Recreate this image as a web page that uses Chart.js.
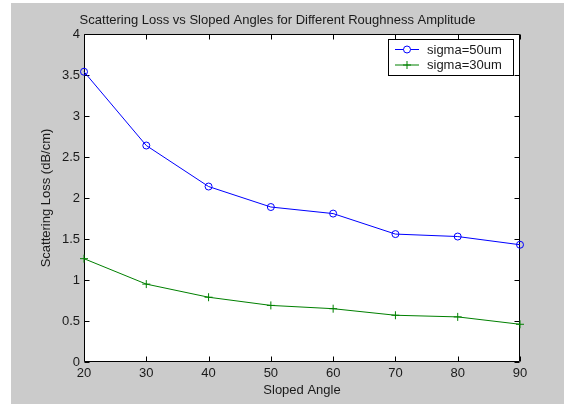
<!DOCTYPE html>
<html><head><meta charset="utf-8">
<script src="https://cdn.jsdelivr.net/npm/chart.js@4/dist/chart.umd.min.js"></script>
<style>html,body{margin:0;padding:0;background:#fff;}#wrap{width:564px;height:404px;}</style>
</head><body><div id="wrap"><canvas id="c" width="564" height="404" style="width:564px;height:404px"></canvas></div>
<script>
const angles = [20, 30, 40, 50, 60, 70, 80, 90];
const sigma50 = [3.54, 2.64, 2.14, 1.89, 1.81, 1.56, 1.53, 1.43];
const sigma30 = [1.26, 0.95, 0.79, 0.69, 0.65, 0.57, 0.55, 0.46];
const xTicks = [20, 30, 40, 50, 60, 70, 80, 90];
const yTicks = [0, 0.5, 1, 1.5, 2, 2.5, 3, 3.5, 4];
const seriesLabels = ['sigma=50um', 'sigma=30um'];

const FONT = 'Liberation Sans, Arial, sans-serif';
const TXT = '#1a1a1a';
const FS = 13;

const bgPlugin = {
  id: 'bg',
  beforeDraw(chart) {
    const ctx = chart.ctx, a = chart.chartArea;
    ctx.save();
    ctx.fillStyle = '#ffffff';
    ctx.fillRect(0, 0, chart.width, chart.height);
    ctx.fillStyle = '#cbcbcb';
    ctx.fillRect(11, 3, chart.width - 11, chart.height - 3);
    ctx.fillStyle = '#ffffff';
    ctx.fillRect(a.left, a.top, a.right - a.left, a.bottom - a.top);
    ctx.restore();
  }
};

const boxPlugin = {
  id: 'box',
  beforeDatasetsDraw(chart) {
    const ctx = chart.ctx, a = chart.chartArea;
    const xs = chart.scales.x, ys = chart.scales.y;
    const L = Math.round(a.left) + 0.5, R = Math.round(a.right) - 0.5;
    const T = Math.round(a.top) + 0.5, B = Math.round(a.bottom) - 0.5;
    const tl = 5;
    ctx.save();
    ctx.strokeStyle = '#000';
    ctx.lineWidth = 1;
    ctx.beginPath();
    ctx.rect(L, T, R - L, B - T);
    xTicks.forEach(v => {
      const p = Math.round(xs.getPixelForValue(v)) + 0.5;
      ctx.moveTo(p, B); ctx.lineTo(p, B - tl);
      ctx.moveTo(p, T); ctx.lineTo(p, T + tl);
    });
    yTicks.forEach(v => {
      const p = Math.round(ys.getPixelForValue(v)) + 0.5;
      ctx.moveTo(L, p); ctx.lineTo(L + tl, p);
      ctx.moveTo(R, p); ctx.lineTo(R - tl, p);
    });
    ctx.stroke();
    ctx.restore();
  }
};

const legendPlugin = {
  id: 'boxLegend',
  afterDraw(chart) {
    const ctx = chart.ctx;
    const x0 = 388.5, y0 = 39.5, w = 125, h = 36;
    ctx.save();
    ctx.fillStyle = '#fff';
    ctx.fillRect(x0, y0, w, h);
    ctx.strokeStyle = '#000';
    ctx.lineWidth = 1;
    ctx.strokeRect(x0, y0, w, h);
    ctx.font = FS + 'px ' + FONT;
    ctx.textBaseline = 'middle';
    ctx.textAlign = 'left';
    chart.data.datasets.forEach((ds, i) => {
      const y = 49.5 + i * 15.5;
      ctx.strokeStyle = ds.borderColor;
      ctx.lineWidth = 1;
      ctx.beginPath();
      ctx.moveTo(395, y); ctx.lineTo(419, y);
      ctx.stroke();
      Chart.helpers.drawPoint(ctx, {
        pointStyle: ds.pointStyle, radius: ds.pointRadius, borderWidth: 1, rotation: 0
      }, 407, y);
      ctx.fillStyle = TXT;
      ctx.fillText(ds.label, 427, y + 0.5);
    });
    ctx.restore();
  }
};

new Chart(document.getElementById('c'), {
  type: 'line',
  data: {
    datasets: [
      {
        label: seriesLabels[0],
        data: angles.map((a, i) => ({x: a, y: sigma50[i]})),
        borderColor: '#0000ff',
        backgroundColor: 'rgba(0,0,0,0)',
        borderWidth: 1,
        pointStyle: 'circle',
        pointRadius: 3.5,
        pointBorderWidth: 1,
        pointBorderColor: '#0000ff',
        pointBackgroundColor: 'rgba(0,0,0,0)',
        tension: 0,
        clip: false
      },
      {
        label: seriesLabels[1],
        data: angles.map((a, i) => ({x: a, y: sigma30[i]})),
        borderColor: '#008000',
        backgroundColor: 'rgba(0,0,0,0)',
        borderWidth: 1,
        pointStyle: 'cross',
        pointRadius: 4,
        pointBorderWidth: 1,
        pointBorderColor: '#008000',
        tension: 0,
        clip: false
      }
    ]
  },
  options: {
    responsive: false,
    animation: false,
    devicePixelRatio: 1,
    layout: { padding: { left: 35, right: 44, top: 3, bottom: 6 } },
    plugins: {
      legend: { display: false },
      tooltip: { enabled: false },
      title: {
        display: true,
        text: 'Scattering Loss vs Sloped Angles for Different Roughness Amplitude',
        color: TXT,
        font: { family: FONT, size: FS, weight: 'normal' },
        padding: { top: 9.2, bottom: 6.2 }
      }
    },
    scales: {
      x: {
        type: 'linear',
        min: 20, max: 90,
        afterBuildTicks(s) { s.ticks = xTicks.map(v => ({value: v})); },
        afterFit(s) { s.height = 36; },
        grid: { display: false, drawTicks: false },
        border: { display: false },
        ticks: { color: TXT, font: { family: FONT, size: FS }, padding: 4, autoSkip: false, maxRotation: 0,
                 callback: v => String(v) },
        title: { display: true, text: 'Sloped Angle', color: TXT, font: { family: FONT, size: FS }, padding: { top: 0, bottom: 0 } }
      },
      y: {
        type: 'linear',
        min: 0, max: 4,
        afterBuildTicks(s) { s.ticks = yTicks.map(v => ({value: v})); },
        afterFit(s) { s.width = 49; },
        grid: { display: false, drawTicks: false },
        border: { display: false },
        ticks: { color: TXT, font: { family: FONT, size: FS }, padding: 4, callback: v => String(v) },
        title: { display: true, text: 'Scattering Loss (dB/cm)', color: TXT, font: { family: FONT, size: FS }, padding: { top: 3.2, bottom: 0 } }
      }
    }
  },
  plugins: [bgPlugin, boxPlugin, legendPlugin]
});
</script>
</body></html>
